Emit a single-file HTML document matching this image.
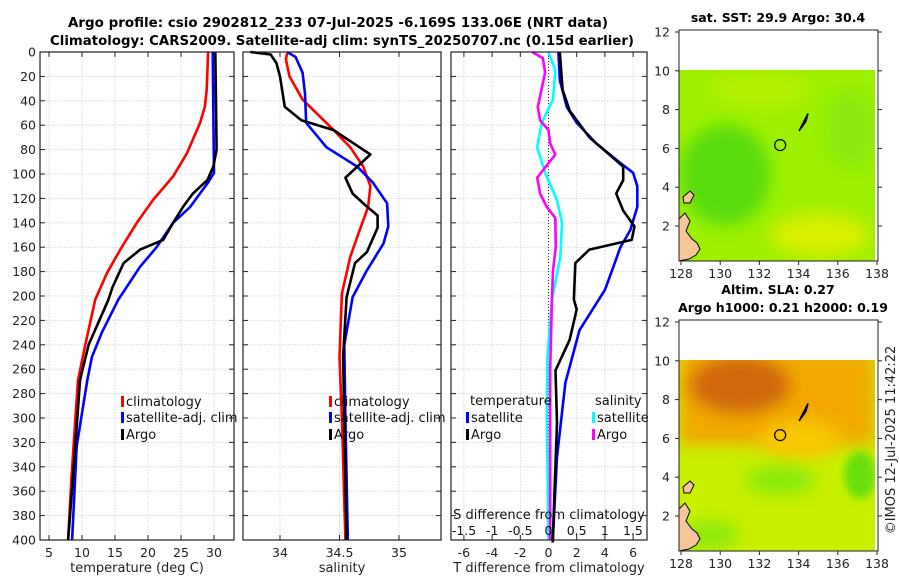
<!DOCTYPE html>
<html><head><meta charset="utf-8"><style>
body{margin:0;background:#fff;}
svg{display:block;font-family:"DejaVu Sans","Liberation Sans",sans-serif;}
</style></head><body>
<svg id="fig" width="900" height="580" viewBox="0 0 900 580" xmlns="http://www.w3.org/2000/svg">
<defs>
<filter id="blur6" x="-50%" y="-50%" width="200%" height="200%"><feGaussianBlur stdDeviation="8"/></filter>
<filter id="blur3" x="-50%" y="-50%" width="200%" height="200%"><feGaussianBlur stdDeviation="4"/></filter>
<clipPath id="clipTop"><rect x="679" y="70" width="196" height="191"/></clipPath>
<clipPath id="clipBot"><rect x="679" y="360" width="196" height="191"/></clipPath>
</defs>
<text x="338" y="27" text-anchor="middle" font-size="13" font-weight="bold" textLength="540" lengthAdjust="spacingAndGlyphs">Argo profile: csio 2902812_233 07-Jul-2025 -6.169S 133.06E (NRT data)</text>
<text x="342" y="45" text-anchor="middle" font-size="13" font-weight="bold" textLength="584" lengthAdjust="spacingAndGlyphs">Climatology: CARS2009. Satellite-adj clim: synTS_20250707.nc (0.15d earlier)</text>
<g id="panels"></g>
<g id="maps"></g>
<text transform="translate(895,440) rotate(-90)" text-anchor="middle" font-size="13" fill="#222">©IMOS 12-Jul-2025 11:42:22</text>
</svg>
<script>
// ---- data (depth in m) ----
const tClimDepth=[0,31,45,58,83,102,121,140,162,181,203,240,269,300,350,400];
const tClimVal=[29.1,28.9,28.6,27.9,25.9,23.8,20.8,18.3,15.8,13.8,12.0,10.5,9.4,9.0,8.4,7.9];
const tSatDepth=[0,99,107,127,140,160,176,203,230,250,269,323,400];
const tSatVal=[29.8,30.0,29.1,26.4,23.8,21.3,18.8,15.5,13.0,11.5,10.8,9.2,8.5];
const tArgoDepth=[0,80,94,105,116,127,140,154,162,173,193,203,240,269,330,400];
const tArgoVal=[30.2,30.4,29.9,29.0,26.8,25.3,23.8,22.3,18.8,16.3,14.6,14.0,11.0,9.7,8.9,7.9];
const sClimDepth=[1,6,20,39,61,78,94,110,127,146,168,198,250,300,400];
const sClimVal=[34.06,34.05,34.08,34.19,34.42,34.59,34.70,34.76,34.74,34.67,34.59,34.52,34.50,34.52,34.55];
const sSatDepth=[0,4,17,34,58,78,94,107,124,143,157,179,201,240,300,400];
const sSatVal=[34.06,34.13,34.19,34.21,34.22,34.39,34.65,34.78,34.90,34.91,34.87,34.73,34.61,34.54,34.55,34.57];
const sArgoDepth=[0,2,9,20,45,56,64,84,103,116,125,134,144,164,173,201,250,300,400];
const sArgoVal=[33.75,33.92,33.97,34.0,34.04,34.18,34.45,34.76,34.55,34.61,34.71,34.82,34.82,34.73,34.63,34.56,34.53,34.54,34.56];
const dTSatDepth=[0,23,45,58,75,91,99,110,127,146,160,176,195,228,271,332,402];
const dTSatVal=[0.7,0.8,1.3,2.0,3.4,5.1,6.0,6.3,6.3,5.8,5.1,4.6,4.0,2.2,1.2,0.6,0.3];
const dTArgoDepth=[0,31,48,70,94,105,116,130,143,154,162,173,203,211,236,261,304,402];
const dTArgoVal=[0.8,1.0,1.5,2.9,5.3,5.3,4.8,5.3,6.1,5.9,2.9,1.9,1.8,2.0,1.5,0.5,0.6,0.3];
const dSSatDepth=[0,15,39,58,78,99,121,140,168,203,250,300,400];
const dSSatVal=[0.0,0.12,0.08,-0.12,-0.2,-0.06,0.15,0.24,0.21,0.06,-0.02,-0.03,0.0];
const dSArgoDepth=[0,5,17,45,56,64,75,84,103,116,127,136,160,179,203,260,400];
const dSArgoVal=[-0.29,-0.1,-0.06,-0.19,-0.15,0.0,0.03,0.12,-0.2,-0.15,-0.03,0.12,0.13,0.08,0.06,0.03,0.03];
const depthTicks=[0,20,40,60,80,100,120,140,160,180,200,220,240,260,280,300,320,340,360,380,400];
const tTicks=[5,10,15,20,25,30];
const sTicks=[34,34.5,35];
const dTTicks=[-6,-4,-2,0,2,4,6];
const dSTicks=[-1.5,-1,-0.5,0,0.5,1,1.5];
const dSTickLabels=["-1.5","-1","-0.5","0","0.5","1","1.5"];

const NS="http://www.w3.org/2000/svg";
const G=document.getElementById('panels');
function mk(tag,attrs,parent){const e=document.createElementNS(NS,tag);for(const k in attrs)e.setAttribute(k,attrs[k]);(parent||G).appendChild(e);return e;}
const yTop=52,yBot=540;
const yScale=d=>yTop+(d/400)*(yBot-yTop);
const xT=v=>49+(v-5)*6.6;
const xS=v=>280+(v-34)*119;
const xDT=v=>548.5+v*14.1;
const xDS=v=>548.5+v*56.3;

function panel(name,x0,x1,xTicks,xf,labels,xlabel,showY){
  const g=mk('g',{});
  
  
  depthTicks.forEach(d=>{const y=yScale(d);
    const l=mk('line',{x1:x0,x2:x1,y1:y,y2:y,stroke:'#c8cde6','stroke-width':0.8,'stroke-dasharray':'1.5,1.5'},g);
    
    mk('line',{x1:x0,x2:x0+5,y1:y,y2:y,stroke:'#222'},g);
    mk('line',{x1:x1-5,x2:x1,y1:y,y2:y,stroke:'#222'},g);
    if(showY){const t=mk('text',{x:x0-4,y:y+4.5,'text-anchor':'end','font-size':12.5,fill:'#222'},g);t.textContent=d;
      }
  });
  xTicks.forEach((v,i)=>{const x=xf(v);
    const l=mk('line',{x1:x,x2:x,y1:yTop,y2:yBot,stroke:'#c8cde6','stroke-width':0.8,'stroke-dasharray':'1.5,1.5'},g);
    
    mk('line',{x1:x,x2:x,y1:yBot,y2:yBot-5,stroke:'#222'},g);
    mk('line',{x1:x,x2:x,y1:yTop,y2:yTop+5,stroke:'#222'},g);
    const t=mk('text',{x:x,y:557,'text-anchor':'middle','font-size':12.5,fill:'#222'},g);t.textContent=labels[i];
    
  });
  const xl=mk('text',{x:(x0+x1)/2,y:572,'text-anchor':'middle','font-size':13,fill:'#222'},g);xl.textContent=xlabel;
  
  return g;
}
function series(g,name,depths,vals,xf,color){
  const pts=depths.map((d,i)=>xf(vals[i]).toFixed(1)+','+yScale(d).toFixed(1)).join(' ');
  const p=mk('polyline',{points:pts,fill:'none',stroke:color,'stroke-width':2.6,'stroke-linejoin':'round'},g);
  
  
}
function frame(g,x0,x1){const r=mk('rect',{x:x0,y:yTop,width:x1-x0,height:yBot-yTop,fill:'none',stroke:'#222','stroke-width':1.2},g);
  }
function legendEntry(g,x,y,color,label){
  const e=mk('g',{},g);
  
  
  mk('rect',{x:x,y:y-10,width:3,height:11,fill:color},e);
  const t=mk('text',{x:x+5,y:y,'font-size':13,fill:'#111'},e);t.textContent=label;
}

// Panel 1 temperature
const g1=panel('temperature-panel',40,234,tTicks,xT,tTicks.map(String),'temperature (deg C)',true);
series(g1,'temp-climatology-line',tClimDepth,tClimVal,xT,'#ff0000');
series(g1,'temp-satellite-line',tSatDepth,tSatVal,xT,'#0000ff');
series(g1,'temp-argo-line',tArgoDepth,tArgoVal,xT,'#000');
legendEntry(g1,121,406,'#ff0000','climatology');
legendEntry(g1,121,422,'#0000ff','satellite-adj. clim');
legendEntry(g1,121,439,'#000','Argo');
frame(g1,40,234);

// Panel 2 salinity
const g2=panel('salinity-panel',243,441,sTicks,xS,["34","34.5","35"],'salinity',false);
series(g2,'sal-climatology-line',sClimDepth,sClimVal,xS,'#ff0000');
series(g2,'sal-satellite-line',sSatDepth,sSatVal,xS,'#0000ff');
series(g2,'sal-argo-line',sArgoDepth,sArgoVal,xS,'#000');
legendEntry(g2,329,406,'#ff0000','climatology');
legendEntry(g2,329,422,'#0000ff','satellite-adj. clim');
legendEntry(g2,329,439,'#000','Argo');
frame(g2,243,441);

// Panel 3 differences
const g3=panel('difference-panel',451,647,dTTicks,xDT,dTTicks.map(String),'T difference from climatology',false);
const zl=mk('line',{x1:548.5,x2:548.5,y1:yTop,y2:yBot,stroke:'#333','stroke-width':1,'stroke-dasharray':'1,2'},g3);

series(g3,'dT-satellite-line',dTSatDepth,dTSatVal,xDT,'#0000ff');
series(g3,'dT-argo-line',dTArgoDepth,dTArgoVal,xDT,'#000');
series(g3,'dS-satellite-line',dSSatDepth,dSSatVal,xDS,'#00ffff');
series(g3,'dS-argo-line',dSArgoDepth,dSArgoVal,xDS,'#ff00ff');
const lt=mk('text',{x:470,y:405,'font-size':13,fill:'#111'},g3);lt.textContent='temperature';

const ls=mk('text',{x:595,y:405,'font-size':13,fill:'#111'},g3);ls.textContent='salinity';

legendEntry(g3,466,422,'#0000ff','satellite');
legendEntry(g3,466,439,'#000','Argo');
legendEntry(g3,592,422,'#00ffff','satellite');
legendEntry(g3,592,439,'#ff00ff','Argo');
const st=mk('text',{x:549,y:519,'text-anchor':'middle','font-size':13,fill:'#111'},g3);st.textContent='S difference from climatology';

dSTicks.forEach((v,i)=>{const t=mk('text',{x:xDS(v),y:535,'text-anchor':'middle','font-size':12.5,fill:'#111'},g3);t.textContent=dSTickLabels[i];
  });
frame(g3,451,647);

// ---- maps ----
const M=document.getElementById('maps');
const lonTicks=[128,130,132,134,136,138];
const latTicks=[2,4,6,8,10,12];
function mapAxes(name,top,title1,title2){
  const g=mk('g',{},M);
  
  
  const lx=v=>681+(v-128)*19.6, ly=v=>top+2+(12-v)*19.4;
  return {g,lx,ly};
}
function decorate(m,top,bot){
  const {g,lx,ly}=m;
  // land
  const land=mk('path',{d:`M679,${bot-42} L685,${bot-48} L690,${bot-40} L686,${bot-30} L692,${bot-22} L697,${bot-18} L700,${bot-12} L696,${bot-6} L689,${bot-2} L679,${bot} Z M683,${bot-64} L690,${bot-70} L694,${bot-66} L690,${bot-58} L684,${bot-58} Z`,fill:'#f7c59a',stroke:'#000','stroke-width':1},g);
  
  const isl=mk('path',{d:`M799,${ly(6.9)} L806,${ly(7.6)} L808,${ly(7.8)} L806,${ly(7.4)} Z`,fill:'#000',stroke:'#000','stroke-width':1.5},g);
  
  const c=mk('circle',{cx:lx(133.06),cy:ly(6.17),r:5.5,fill:'none',stroke:'#000','stroke-width':1.2},g);
  
  mk('rect',{x:679,y:top,width:199,height:bot-top,fill:'none',stroke:'#222','stroke-width':1},g);
  lonTicks.forEach(v=>{const x=lx(v);mk('line',{x1:x,x2:x,y1:bot,y2:bot+4,stroke:'#222'},g);
    const t=mk('text',{x:x,y:bot+17,'text-anchor':'middle','font-size':12.5,fill:'#222'},g);t.textContent=v;
    });
  latTicks.forEach(v=>{const y=ly(v);mk('line',{x1:675,x2:679,y1:y,y2:y,stroke:'#222'},g);mk('line',{x1:878,x2:882,y1:y,y2:y,stroke:'#222'},g);
    const t=mk('text',{x:670,y:y+4.5,'text-anchor':'end','font-size':12.5,fill:'#222'},g);t.textContent=v;
    });
}
// Top map: SST
const m1=mapAxes('sst-map',30);
const t1=mk('text',{x:778,y:22,'text-anchor':'middle','font-size':12.5,'font-weight':'bold'},m1.g);t1.textContent='sat. SST: 29.9 Argo: 30.4';

const f1=mk('g',{'clip-path':'url(#clipTop)'},m1.g);
mk('rect',{x:679,y:70,width:196,height:191,fill:'#9cf000'},f1);
mk('ellipse',{cx:725,cy:175,rx:45,ry:50,fill:'#58dc10',filter:'url(#blur6)'},f1);
mk('ellipse',{cx:820,cy:235,rx:50,ry:22,fill:'#d8f000',filter:'url(#blur6)'},f1);
mk('ellipse',{cx:760,cy:90,rx:50,ry:18,fill:'#b4f000',filter:'url(#blur6)'},f1);
mk('ellipse',{cx:850,cy:130,rx:25,ry:40,fill:'#8ce808',filter:'url(#blur6)'},f1);
decorate(m1,30,261);
// Bottom map: SLA
const m2=mapAxes('sla-map',320);
const t2a=mk('text',{x:778,y:294,'text-anchor':'middle','font-size':12.5,'font-weight':'bold'},m2.g);t2a.textContent='Altim. SLA: 0.27';

const t2b=mk('text',{x:783,y:312,'text-anchor':'middle','font-size':12.5,'font-weight':'bold'},m2.g);t2b.textContent='Argo h1000: 0.21 h2000: 0.19';

const f2=mk('g',{'clip-path':'url(#clipBot)'},m2.g);
mk('rect',{x:679,y:360,width:196,height:191,fill:'#c8f000'},f2);
mk('rect',{x:679,y:350,width:196,height:95,fill:'#f2a800',filter:'url(#blur6)'},f2);
mk('ellipse',{cx:740,cy:385,rx:50,ry:28,fill:'#d06810',filter:'url(#blur6)'},f2);
mk('ellipse',{cx:800,cy:440,rx:40,ry:20,fill:'#f8c800',filter:'url(#blur6)'},f2);
mk('ellipse',{cx:780,cy:480,rx:35,ry:14,fill:'#88e808',filter:'url(#blur6)'},f2);
mk('ellipse',{cx:860,cy:475,rx:16,ry:24,fill:'#6ce010',filter:'url(#blur3)'},f2);
mk('ellipse',{cx:710,cy:535,rx:30,ry:15,fill:'#90e808',filter:'url(#blur6)'},f2);
decorate(m2,320,551);
</script>
</body></html>
